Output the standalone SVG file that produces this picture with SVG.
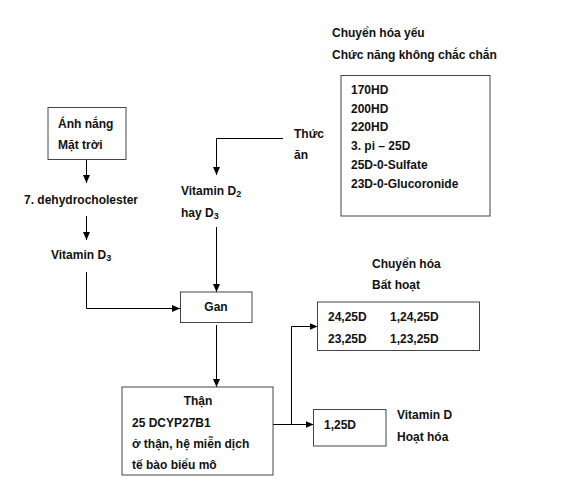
<svg xmlns="http://www.w3.org/2000/svg" width="568" height="497" viewBox="0 0 568 497">
<defs>
<marker id="ah" viewBox="0 0 8 8" refX="8" refY="4" markerWidth="8" markerHeight="7" markerUnits="userSpaceOnUse" orient="auto" preserveAspectRatio="none">
<path d="M0,0 L8,4 L0,8 z" fill="#000"/>
</marker>
<style>
text{font-family:"Liberation Sans",Arial,sans-serif;font-weight:bold;font-size:12px;fill:#111}
.box{fill:#fff;stroke:#444;stroke-width:1}
.ln{fill:none;stroke:#000;stroke-width:1}
</style>
</defs>
<rect width="568" height="497" fill="#fff"/>
<g id="connectors">
<path class="ln" d="M86.5,159 V183" marker-end="url(#ah)"/>
<path class="ln" d="M86.5,216 V240" marker-end="url(#ah)"/>
<path class="ln" d="M86.5,272 V308.5 H180" marker-end="url(#ah)"/>
<path class="ln" d="M283,138.5 H216.5 V175" marker-end="url(#ah)"/>
<path class="ln" d="M216.5,227 V292" marker-end="url(#ah)"/>
<path class="ln" d="M216.5,325 V387" marker-end="url(#ah)"/>
<path class="ln" d="M273,424.5 H313.5" marker-end="url(#ah)"/>
<path class="ln" d="M291.5,424.5 V326.5 H317.5" marker-end="url(#ah)"/>
</g>
<g id="sun">
<rect class="box" x="48" y="107.5" width="78" height="52"/>
<text x="58" y="128">Ánh nắng</text>
<text x="58" y="149">Mặt trời</text>
</g>
<g id="dehydro"><text x="24" y="204">7. dehydrocholester</text></g>
<g id="vitd3"><text x="51" y="259">Vitamin D<tspan font-size="9" dy="1.5">3</tspan></text></g>
<g id="food"><text x="294" y="138">Thức</text><text x="294" y="159">ăn</text></g>
<g id="vitd2"><text x="181" y="195">Vitamin D<tspan font-size="9" dy="1.5">2</tspan></text><text x="181" y="217">hay D<tspan font-size="9" dy="1.5">3</tspan></text></g>
<g id="weak">
<text x="332" y="37">Chuyển hóa yếu</text>
<text x="332" y="59">Chức năng không chắc chắn</text>
<rect class="box" x="341" y="75.5" width="149" height="140.5"/>
<text x="351" y="94">170HD</text>
<text x="351" y="113">200HD</text>
<text x="351" y="131">220HD</text>
<text x="351" y="150">3. pi – 25D</text>
<text x="351" y="169">25D-0-Sulfate</text>
<text x="351" y="188">23D-0-Glucoronide</text>
</g>
<g id="gan">
<rect class="box" x="180.5" y="292" width="71.5" height="30.5"/>
<text x="216" y="311" text-anchor="middle">Gan</text>
</g>
<g id="than">
<rect class="box" x="122" y="387" width="151" height="88"/>
<text x="198" y="405" text-anchor="middle">Thận</text>
<text x="132" y="427">25 DCYP27B1</text>
<text x="132" y="448">ở thận, hệ miễn dịch</text>
<text x="132" y="469">tế bào biểu mô</text>
</g>
<g id="inactive">
<text x="372" y="268">Chuyển hóa</text>
<text x="372" y="289">Bất hoạt</text>
<rect class="box" x="317.5" y="302" width="162" height="48.5"/>
<text x="328" y="321">24,25D</text>
<text x="390" y="321">1,24,25D</text>
<text x="328" y="343">23,25D</text>
<text x="390" y="343">1,23,25D</text>
</g>
<g id="active">
<rect class="box" x="313.5" y="409.5" width="72.5" height="36.5"/>
<text x="324" y="429">1,25D</text>
<text x="397" y="419">Vitamin D</text>
<text x="397" y="441">Hoạt hóa</text>
</g>
</svg>
